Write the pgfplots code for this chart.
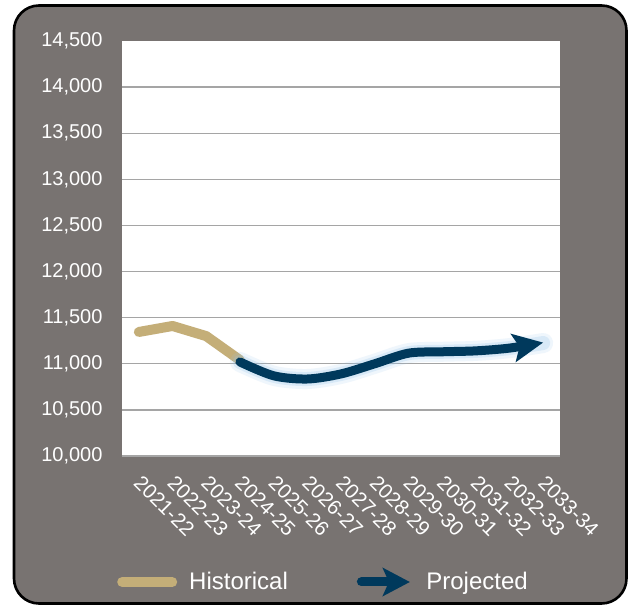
\documentclass[border=0pt]{standalone}
\usepackage{fontspec}
\setmainfont{Liberation Sans}
\usepackage{pgfplots}
\pgfplotsset{compat=1.18}
\usetikzlibrary{arrows.meta}

\definecolor{panelgray}{RGB}{120,115,113}
\definecolor{histtan}{RGB}{196,174,120}
\definecolor{projnavy}{RGB}{0,57,92}
\definecolor{glowblue}{RGB}{150,195,235}
\definecolor{gridgray}{RGB}{165,165,165}

\begin{document}
\begin{tikzpicture}
\path[use as bounding box] (0,0) rectangle (629pt,606pt);
% rounded panel behind the chart
\draw[line width=2.6pt, black, fill=panelgray, rounded corners=25pt]
  (14pt,2.5pt) rectangle (626.5pt,600.5pt);
\begin{axis}[
  at={(122pt,150pt)}, anchor=south west,
  scale only axis, width=438pt, height=415pt,
  xmin=-0.5, xmax=12.5, ymin=10000, ymax=14500,
  xtick={0,...,12},
  xticklabels={2021-22,2022-23,2023-24,2024-25,2025-26,2026-27,2027-28,2028-29,2029-30,2030-31,2031-32,2032-33,2033-34},
  ytick={10000,10500,...,14000},
  extra y ticks={14500}, extra y tick style={grid=none},
  scaled y ticks=false,
  ymajorgrids, major grid style={gridgray, line width=1.3pt},
  axis line style={draw=none},
  major tick length=0pt,
  axis background/.style={fill=white},
  tick label style={text=white},
  yticklabel style={font=\fontsize{20}{20}\selectfont, anchor=east, xshift=-16pt},
  xticklabel style={font=\fontsize{20.5}{20.5}\selectfont, xshift=4pt, yshift=-13pt, rotate=-45, anchor=north west},
  /pgf/number format/1000 sep={,},
  /pgf/number format/assume math mode=true,
  legend columns=2,
  legend style={at={(-0.0114,-0.3036)}, anchor=west, draw=none, fill=none,
    text=white, font=\fontsize{24}{24}\selectfont, inner sep=0pt,
    /tikz/every odd column/.append style={column sep=10pt},
    /tikz/every even column/.append style={column sep=67pt}},
  legend cell align=left,
]
% historical enrolment
\addplot[histtan, line width=10pt, line cap=round, line join=round,
  legend image code/.code={\draw[histtan, line width=10pt, line cap=round] (5pt,0pt) -- (55pt,0pt);}]
  coordinates {(0,11345) (1,11410) (2,11300) (3,11040)};
\addlegendentry{Historical}
% soft halo around the projection
\addplot[glowblue, opacity=0.15, line width=20pt, smooth, line cap=round, forget plot]
  coordinates {(3,11020) (4,10870) (5,10835) (6,10890) (7,11000) (8,11115) (9,11130) (10,11140) (11,11170) (12,11225)};
\addplot[glowblue, opacity=0.25, line width=14pt, smooth, line cap=round, forget plot]
  coordinates {(3,11020) (4,10870) (5,10835) (6,10890) (7,11000) (8,11115) (9,11130) (10,11140) (11,11170) (12,11225)};
% projected enrolment
\addplot[projnavy, line width=9pt, smooth, line cap=round,
  -{Stealth[length=30pt, width=28pt, inset=6pt]},
  legend image code/.code={\draw[projnavy, line width=9pt, line cap=round, -{Stealth[length=27pt, width=28pt, inset=6pt]}] (4.5pt,0pt) -- (53pt,0pt);}]
  coordinates {(3,11020) (4,10870) (5,10835) (6,10890) (7,11000) (8,11115) (9,11130) (10,11140) (11,11170) (12,11230)};
\addlegendentry{Projected}
\end{axis}
\end{tikzpicture}
\end{document}
